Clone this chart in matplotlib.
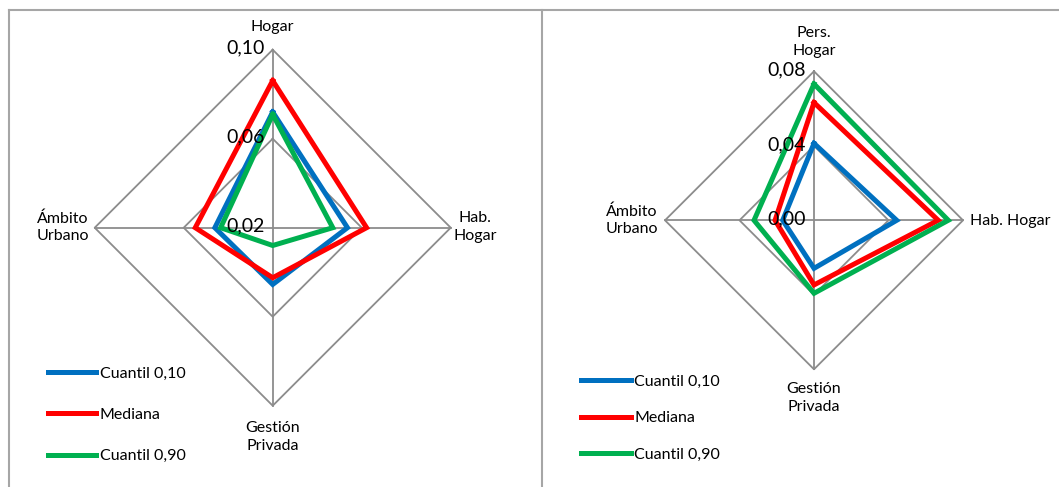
import numpy as np
import matplotlib
matplotlib.use('Agg')
import matplotlib.pyplot as plt
from matplotlib.lines import Line2D

plt.rcParams['font.family'] = ['Lato', 'DejaVu Sans']

categorias = ['Pers.\nHogar', 'Hab.\nHogar', 'Gestión\nPrivada', 'Ámbito\nUrbano']
series = ['Cuantil 0,10', 'Mediana', 'Cuantil 0,90']
colores = ['#0070C0', '#FF0000', '#00B050']

# panel izquierdo (escala 0,02 - 0,10)
izq_q10 = [0.072, 0.0536, 0.0455, 0.046]
izq_med = [0.0861, 0.0622, 0.0425, 0.0548]
izq_q90 = [0.0709, 0.047, 0.028, 0.0434]
izq_ticks = [0.02, 0.06, 0.10]

# panel derecho (escala 0,00 - 0,08)
der_q10 = [0.0413, 0.0444, 0.0258, 0.0168]
der_med = [0.0632, 0.0667, 0.0347, 0.0209]
der_q90 = [0.0732, 0.0721, 0.0392, 0.0322]
der_ticks = [0.00, 0.04, 0.08]

W, H = 1059, 487
fig = plt.figure(figsize=(W / 100, H / 100), dpi=100)
gris = '#8c8c8c'


def px(x, y):
    return x / W, 1 - y / H


def radar(cx, cy, rad, datos, ticks):
    x0, y0 = px(cx - rad, cy + rad)
    ax = fig.add_axes([x0, y0, 2 * rad / W, 2 * rad / H], projection='polar')
    ax.set_theta_zero_location('N')
    ax.set_theta_direction(-1)
    ax.set_ylim(ticks[0], ticks[-1])
    ax.grid(False)
    ax.set_xticks([])
    ax.set_yticks([])
    ax.spines['polar'].set_visible(False)
    ax.patch.set_alpha(0)
    ang = np.arange(4) * np.pi / 2
    ang_c = np.append(ang, ang[0])
    for a in ang:
        ax.plot([a, a], [ticks[0], ticks[-1]], color=gris, lw=1.3, clip_on=False)
    for t in ticks[1:]:
        ax.plot(ang_c, [t] * 5, color=gris, lw=1.3, clip_on=False)
    lineas = []
    for vals, c, nom in zip(datos, colores, series):
        l, = ax.plot(ang_c, list(vals) + [vals[0]], color=c, lw=3.6,
                     solid_joinstyle='miter', label=nom, clip_on=False)
        lineas.append(l)
    for t in ticks:
        ax.annotate(('%.2f' % t).replace('.', ','), (0, t), xytext=(-6, 1),
                    textcoords='offset points', ha='right', va='center',
                    fontsize=14, color='black')
    return ax, lineas


fs = 11.5

# ---- izquierda
ax1, l1 = radar(272.7, 227.7, 178, [izq_q10, izq_med, izq_q90], izq_ticks)
fig.text(*px(272.7, 27), 'Hogar', ha='center', va='center', fontsize=fs)
fig.text(*px(475, 227), categorias[1], ha='center', va='center', fontsize=fs, linespacing=1.3)
fig.text(*px(272.7, 437), categorias[2], ha='center', va='center', fontsize=fs, linespacing=1.3)
fig.text(*px(63, 227), categorias[3], ha='center', va='center', fontsize=fs, linespacing=1.3)
ax1.legend(handles=l1, loc='upper left', bbox_to_anchor=px(42, 360), bbox_transform=fig.transFigure,
           frameon=False, fontsize=fs, handlelength=3.0, handletextpad=0.2, labelspacing=1.7,
           borderaxespad=0)

# ---- derecha
ax2, l2 = radar(814, 220.3, 149, [der_q10, der_med, der_q90], der_ticks)
fig.text(*px(814, 42), categorias[0], ha='center', va='center', fontsize=fs, linespacing=1.3)
fig.text(*px(970, 221), 'Hab. Hogar', ha='left', va='center', fontsize=fs)
fig.text(*px(632, 220), categorias[3], ha='center', va='center', fontsize=fs, linespacing=1.3)
fig.text(*px(814, 398), categorias[2], ha='center', va='center', fontsize=fs, linespacing=1.3)
ax2.legend(handles=l2, loc='upper left', bbox_to_anchor=px(575, 368), bbox_transform=fig.transFigure,
           frameon=False, fontsize=fs, handlelength=3.1, handletextpad=0.2, labelspacing=1.4,
           borderaxespad=0)

# marcos de los graficos
borde = '#a6a6a6'
for xs, ys in [([9, 9], [10, 487]), ([9, 1059], [10, 10]), ([542, 542], [10, 487])]:
    fig.add_artist(Line2D([x / W for x in xs], [1 - y / H for y in ys], color=borde, lw=1.5))

fig.savefig('out.png', dpi=100)
